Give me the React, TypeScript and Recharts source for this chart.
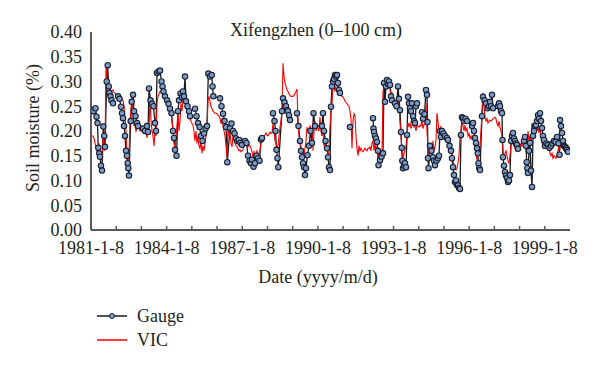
import { LineChart, Line, XAxis, YAxis } from 'recharts'

// time is counted in half-month steps since 1981-1-8 (19 years over 479 steps)
const START_YEAR = 1981
const STEP = 19 / 479

const yTicks = [0, 0.05, 0.1, 0.15, 0.2, 0.25, 0.3, 0.35, 0.4]
const xTicks = [1981, 1982, 1983, 1984, 1985, 1986, 1987, 1988, 1989, 1990, 1991, 1992, 1993, 1994, 1995, 1996, 1997, 1998, 1999]
const labelledYears = [1981, 1984, 1987, 1990, 1993, 1996, 1999]

// gauge observations (null = no measurements, line broken)
const gaugeTime = [
  1, 2.5, 4.5, 5.5, 6.5, 7.3, 8.3, 9, 10, 11, 12.3, 13.3, 14, 15.7, 16.7, 17.7, 18.5, 19.5, 20.5, 22,
  24.5,
  27, 28.5, 30, 31, 32, 33, 34, 35, 36, 36.7, 37.3, 38, 39.7, 40.7, 42, 43, 44.5, 46, 47,
  49.5,
  52, 54, 56, 57, 58, 59.5, 61, 62.5, 64, 65, 66, 67.5, 69, 70.5, 71.5, 72.5, 74,
  76, 77.5, 79, 80.5, 82, 83, 84, 85.5, 87, 88, 89.5, 91, 92, 93, 94, 95, 96.5, 98, 99,
  101.5,
  104, 105.5, 107, 108.5, 110, 111.5, 113, 114.5, 116, 117.3, 119, 120.7, 121.5, 122.3, 129, 130.5, 132, 133.5, 135, 136.3,
  139, 140.5, 142, 143.5, 145, 146.5, 148, 149.5, 151,
  154, 155.5, 157, 158.5, 160, 161, 162.5, 164, 165.5, 167, 168.5, 170, 171,
  176.5,
  182, 183.5, 184.5, 185.5, 186.5, 187.3, 191, 192, 193.5, 195, 196, 197, 198, 199,
  202.5,
  206, 207.5, 209, 210, 211, 212, 213, 214, 215, 216.5, 218, 219.5, 221, 222.5, 224,
  231, 232, 233, 234.5, 236, 237, 238, 239, 240, 241, 242, 243, 244, 245, 246, 247, 248, 249,
  254,
  259,
  270,
  282, 282.5, 283, 284, 285, 286, 287, 287.5, 289, 290.5, 292, 293, 294, 295, 296, 297, 298, 299, 300, 301,
  304, 305.5, 307, 308, 309, 310, 310.7, 311.3, 312, 313, 314, 315, 316, 317, 318, 319, 320, 321, 322, 323, 324, 325, 326,
  328.5,
  331, 332, 333.5, 335, 336, 336.5, 337, 337.5, 339, 340.5, 342, 343, 344, 345.5, 347, 348, 349, 350, 351, 352.5, 354, 356,
  357, 358.5, 360, 361, 362, 363, 364, 365, 366, 367, 368, 369, 370, 371, 372, 373, 374.5, 376,
  381, 382, 383, 384, 385, 386, 386.8, 387.5, 388.3, 389, 391, 392, 393.5, 395, 396.5, 398, 399, 400, 401, 402,
  407, 408, 409, 410, 411, 411.5, 412, 413, 414, 415, 416, 417, 418, 419, 420, 421, 422, 423, 424, 425, 426, 427,
  433, 434, 435, 435.7, 436.3, 437, 438, 439, 440, 441, 442, 443, 444, 445, 446, 447, 448, 449, 450, 451, 452, 453,
  454, 455.5, 457, 458.5, 460, 461.5, 463, 464.5, 466, 467.5, 468.5, 469, 470, 471, 472, 473, 474, 475, 476, 477,
]

const gaugeValue = [
  0.242, 0.24, 0.246, 0.229, 0.216, 0.166, 0.155, 0.148, 0.13, 0.12, 0.209, 0.19, 0.168, 0.3, 0.333, 0.29, 0.277, 0.27, 0.262, 0.256,
  null,
  0.27, 0.265, 0.249, 0.236, 0.226, 0.21, 0.19, 0.16, 0.15, 0.135, 0.125, 0.11, 0.22, 0.259, 0.273, 0.24, 0.23, 0.216, 0.21,
  null,
  0.205, 0.2, 0.21, 0.198, 0.286, 0.262, 0.255, 0.25, 0.216, 0.2, 0.317, 0.32, 0.322, 0.3, 0.29, 0.28, 0.27,
  0.262, 0.255, 0.245, 0.236, 0.2, 0.186, 0.162, 0.15, 0.24, 0.262, 0.276, 0.268, 0.28, 0.27, 0.31, 0.26, 0.25, 0.24, 0.23,
  null,
  0.245, 0.23, 0.216, 0.208, 0.19, 0.18, 0.195, 0.205, 0.21, 0.316, 0.31, 0.313, 0.29, 0.27, 0.266, 0.25, 0.235, 0.22, 0.208, 0.137,
  0.206, 0.215, 0.2, 0.195, 0.185, 0.18, 0.182, 0.176, 0.172,
  0.18, 0.176, 0.15, 0.14, 0.135, 0.142, 0.128, 0.135, 0.15, 0.145, 0.14, 0.183, 0.186,
  null,
  0.236, 0.22, 0.2, 0.162, 0.145, 0.127, 0.24, 0.266, 0.258, 0.25, 0.242, 0.24, 0.232, 0.222,
  null,
  0.236, 0.21, 0.18, 0.16, 0.147, 0.135, 0.127, 0.111, 0.125, 0.151, 0.17, 0.2, 0.176, 0.236, 0.21,
  0.21, 0.236, 0.2, 0.18, 0.165, 0.147, 0.127, 0.121, 0.249, 0.29, 0.3, 0.305, 0.313, 0.31, 0.313, 0.297, 0.283, 0.277,
  null,
  0.208,
  null,
  0.226, 0.205, 0.198, 0.19, 0.185, 0.178, 0.16, 0.131, 0.141, 0.148, 0.155, 0.297, 0.259, 0.29, 0.303, 0.295, 0.3, 0.293, 0.27, 0.262,
  0.256, 0.25, 0.29, 0.265, 0.242, 0.198, 0.166, 0.14, 0.125, 0.13, 0.135, 0.127, 0.192, 0.269, 0.256, 0.246, 0.24, 0.256, 0.23, 0.22, 0.216, 0.25, 0.256,
  null,
  0.238, 0.225, 0.234, 0.283, 0.273, 0.218, 0.145, 0.125, 0.17, 0.16, 0.147, 0.14, 0.131, 0.14, 0.145, 0.15, 0.2, 0.188, 0.2, 0.195, 0.19, 0.186,
  0.182, 0.17, 0.16, 0.145, 0.127, 0.111, 0.097, 0.1, 0.091, 0.09, 0.085, 0.083, 0.192, 0.228, 0.226, 0.22, 0.225, 0.22,
  0.21, 0.216, 0.2, 0.186, 0.176, 0.165, 0.155, 0.135, 0.125, 0.121, 0.23, 0.269, 0.262, 0.256, 0.246, 0.25, 0.259, 0.25, 0.273, 0.246,
  0.25, 0.256, 0.25, 0.24, 0.236, 0.182, 0.147, 0.13, 0.117, 0.11, 0.105, 0.097, 0.1, 0.111, 0.18, 0.19, 0.196, 0.185, 0.18, 0.175, 0.172, 0.164,
  0.18, 0.188, 0.17, 0.137, 0.125, 0.115, 0.16, 0.176, 0.12, 0.087, 0.19, 0.2, 0.21, 0.212, 0.22, 0.232, 0.225, 0.236, 0.22, 0.206, 0.19, 0.182,
  0.17, 0.175, 0.172, 0.166, 0.17, 0.175, 0.18, 0.178, 0.188, 0.175, 0.152, 0.222, 0.21, 0.196, 0.18, 0.17, 0.168, 0.165, 0.162, 0.158,
]

// VIC simulation, one value per half-month step
const vicValue = [
  0.192, 0.19, 0.19, 0.185, 0.176, 0.168, 0.16, 0.147, 0.175, 0.145, 0.15, 0.14, 0.188, 0.17, 0.16, 0.337, 0.303, 0.29, 0.29, 0.287, 0.28, 0.282, 0.283, 0.278, 0.277, 0.272,
  0.27, 0.27, 0.268, 0.269, 0.262, 0.264, 0.262, 0.25, 0.226, 0.2, 0.14, 0.121, 0.15, 0.222, 0.24, 0.269, 0.235, 0.21, 0.215, 0.2, 0.205, 0.21, 0.208, 0.2, 0.2,
  0.205, 0.2, 0.2, 0.205, 0.198, 0.186, 0.21, 0.2, 0.269, 0.22, 0.2, 0.19, 0.17, 0.2, 0.19, 0.256, 0.27, 0.275, 0.28, 0.278, 0.277, 0.275, 0.272, 0.27, 0.268,
  0.265, 0.262, 0.26, 0.25, 0.24, 0.22, 0.2, 0.176, 0.162, 0.19, 0.21, 0.24, 0.2, 0.22, 0.256, 0.24, 0.265, 0.277, 0.26, 0.25, 0.255, 0.24, 0.232, 0.226, 0.22, 0.215,
  0.212, 0.2, 0.18, 0.2, 0.175, 0.19, 0.17, 0.165, 0.18, 0.155, 0.17, 0.16, 0.175, 0.19, 0.2, 0.262, 0.27, 0.26, 0.25, 0.245, 0.24, 0.238, 0.236, 0.236, 0.235,
  0.232, 0.23, 0.226, 0.215, 0.226, 0.21, 0.2, 0.19, 0.17, 0.147, 0.208, 0.19, 0.198, 0.175, 0.168, 0.19, 0.185, 0.175, 0.17, 0.168, 0.165, 0.16, 0.162, 0.158, 0.16, 0.162,
  0.17, 0.178, 0.175, 0.17, 0.168, 0.172, 0.17, 0.165, 0.158, 0.145, 0.16, 0.141, 0.155, 0.16, 0.152, 0.155, 0.16, 0.175, 0.182, 0.185, 0.19, 0.192, 0.196, 0.192,
  0.19, 0.194, 0.198, 0.195, 0.196, 0.216, 0.2, 0.18, 0.176, 0.165, 0.17, 0.19, 0.208, 0.22, 0.242, 0.337, 0.31, 0.297, 0.29, 0.283, 0.28, 0.275, 0.272, 0.27, 0.27, 0.27,
  0.272, 0.276, 0.28, 0.285, 0.22, 0.19, 0.18, 0.165, 0.155, 0.16, 0.15, 0.165, 0.18, 0.208, 0.2, 0.205, 0.21, 0.205, 0.2, 0.16, 0.2, 0.22, 0.2, 0.21, 0.205,
  0.2, 0.228, 0.2, 0.19, 0.2, 0.17, 0.18, 0.165, 0.17, 0.147, 0.16, 0.212, 0.235, 0.252, 0.3, 0.29, 0.28, 0.29, 0.297, 0.285, 0.28, 0.277, 0.272, 0.27, 0.269,
  0.265, 0.26, 0.258, 0.255, 0.252, 0.25, 0.24, 0.225, 0.165, 0.22, 0.235, 0.23, 0.19, 0.165, 0.15, 0.17, 0.16, 0.165, 0.16, 0.158, 0.162, 0.165, 0.162, 0.16, 0.165,
  0.165, 0.168, 0.16, 0.176, 0.18, 0.16, 0.175, 0.16, 0.17, 0.14, 0.16, 0.147, 0.155, 0.15, 0.28, 0.29, 0.3, 0.285, 0.3, 0.293, 0.29, 0.285, 0.275, 0.277, 0.27,
  0.265, 0.256, 0.26, 0.25, 0.26, 0.25, 0.216, 0.19, 0.16, 0.145, 0.155, 0.162, 0.17, 0.188, 0.216, 0.21, 0.216, 0.205, 0.212, 0.215, 0.208, 0.21, 0.2, 0.212, 0.21, 0.208,
  0.212, 0.21, 0.222, 0.205, 0.212, 0.215, 0.256, 0.2, 0.16, 0.155, 0.15, 0.141, 0.15, 0.18, 0.16, 0.168, 0.18, 0.236, 0.218, 0.2, 0.196, 0.21, 0.2, 0.19, 0.19,
  0.195, 0.185, 0.186, 0.18, 0.17, 0.176, 0.16, 0.155, 0.141, 0.13, 0.125, 0.121, 0.125, 0.135, 0.15, 0.188, 0.2, 0.226, 0.21, 0.2, 0.212, 0.2, 0.205, 0.19, 0.195,
  0.185, 0.19, 0.182, 0.192, 0.18, 0.168, 0.155, 0.141, 0.15, 0.16, 0.17, 0.2, 0.24, 0.277, 0.25, 0.228, 0.22, 0.225, 0.216, 0.22, 0.222, 0.22, 0.222, 0.225, 0.226,
  0.228, 0.225, 0.215, 0.21, 0.22, 0.208, 0.2, 0.19, 0.16, 0.145, 0.155, 0.16, 0.15, 0.14, 0.135, 0.15, 0.17, 0.188, 0.175, 0.17, 0.165, 0.16, 0.17, 0.165, 0.162,
  0.17, 0.175, 0.168, 0.188, 0.17, 0.175, 0.16, 0.162, 0.2, 0.18, 0.19, 0.175, 0.216, 0.2, 0.21, 0.205, 0.215, 0.2, 0.21, 0.196, 0.205, 0.19, 0.176, 0.17, 0.165,
  0.17, 0.165, 0.172, 0.162, 0.165, 0.155, 0.15, 0.155, 0.145, 0.15, 0.148, 0.145, 0.15, 0.16, 0.17, 0.165, 0.176, 0.17, 0.168, 0.175, 0.182, 0.16, 0.165, 0.17, 0.165, 0.168,
]

const gaugeData = gaugeTime.map((t, i) => ({
  year: START_YEAR + t * STEP,
  value: gaugeValue[i] ?? null,
}))

const vicData = vicValue.map((v, i) => ({
  year: START_YEAR + i * STEP,
  value: v,
}))

const FONT = '"Liberation Serif", "Times New Roman", serif'
const TEXT = '#231f20'
const AXIS = '#595959'

function DateTick({ x, y, payload }: any) {
  const yr = payload.value as number
  return (
    <g>
      <line x1={x} x2={x} y1={y - 8} y2={y - 12} stroke={AXIS} strokeWidth={1.5} />
      {labelledYears.includes(yr) && (
        <text x={x} y={y + 16} textAnchor="middle" fontSize={18} fontFamily={FONT} fill={TEXT}>
          {`${yr}-1-8`}
        </text>
      )}
    </g>
  )
}

export default function App() {
  return (
    <div
      style={{
        position: 'absolute',
        left: 0,
        top: 0,
        width: 600,
        height: 373,
        background: '#fff',
        fontFamily: FONT,
        color: TEXT,
      }}
    >
      <LineChart width={600} height={373} margin={{ top: 32, right: 30, bottom: 113, left: 0 }}>
        <XAxis
          type="number"
          dataKey="year"
          domain={[1981, 2000]}
          ticks={xTicks}
          interval={0}
          allowDataOverflow
          tick={<DateTick />}
          tickLine={false}
          axisLine={{ stroke: AXIS, strokeWidth: 2 }}
          height={30}
        />
        <YAxis
          type="number"
          domain={[0, 0.4]}
          ticks={yTicks}
          interval={0}
          width={91}
          tickLine={false}
          tickSize={7}
          tickMargin={2}
          axisLine={{ stroke: AXIS, strokeWidth: 2 }}
          tickFormatter={(v: number) => v.toFixed(2)}
          tick={{ fontSize: 18, fontFamily: FONT, fill: TEXT }}
        />
        <Line
          data={gaugeData}
          dataKey="value"
          type="linear"
          stroke="#1a1a1a"
          strokeWidth={1.3}
          dot={{ r: 2.7, fill: '#7b9cc9', stroke: '#1a1f2e', strokeWidth: 1.1 }}
          connectNulls={false}
          isAnimationActive={false}
        />
        <Line
          data={vicData}
          dataKey="value"
          type="linear"
          stroke="#ff0000"
          strokeWidth={1.1}
          dot={false}
          isAnimationActive={false}
        />
      </LineChart>

      <div style={{ position: 'absolute', left: 316, top: 30, transform: 'translate(-50%, -50%)', fontSize: 18, whiteSpace: 'nowrap' }}>
        Xifengzhen (0–100 cm)
      </div>
      <div
        style={{
          position: 'absolute',
          left: 33,
          top: 128,
          transform: 'translate(-50%, -50%) rotate(-90deg)',
          fontSize: 18,
          whiteSpace: 'nowrap',
        }}
      >
        Soil moisture (%)
      </div>
      <div style={{ position: 'absolute', left: 318, top: 277, transform: 'translate(-50%, -50%)', fontSize: 18, whiteSpace: 'nowrap' }}>
        Date (yyyy/m/d)
      </div>

      <div style={{ position: 'absolute', left: 97, top: 304, fontSize: 18, lineHeight: '24px' }}>
        <div style={{ display: 'flex', alignItems: 'center', height: 24 }}>
          <svg width={32} height={12} style={{ marginRight: 8 }}>
            <line x1={0} x2={30} y1={6} y2={6} stroke="#1a1a1a" strokeWidth={1.5} />
            <circle cx={15} cy={6} r={2.5} fill="#7b9cc9" stroke="#1a1f2e" strokeWidth={1} />
          </svg>
          Gauge
        </div>
        <div style={{ display: 'flex', alignItems: 'center', height: 24 }}>
          <svg width={32} height={12} style={{ marginRight: 8 }}>
            <line x1={0} x2={30} y1={6} y2={6} stroke="#ff0000" strokeWidth={1.5} />
          </svg>
          VIC
        </div>
      </div>
    </div>
  )
}
